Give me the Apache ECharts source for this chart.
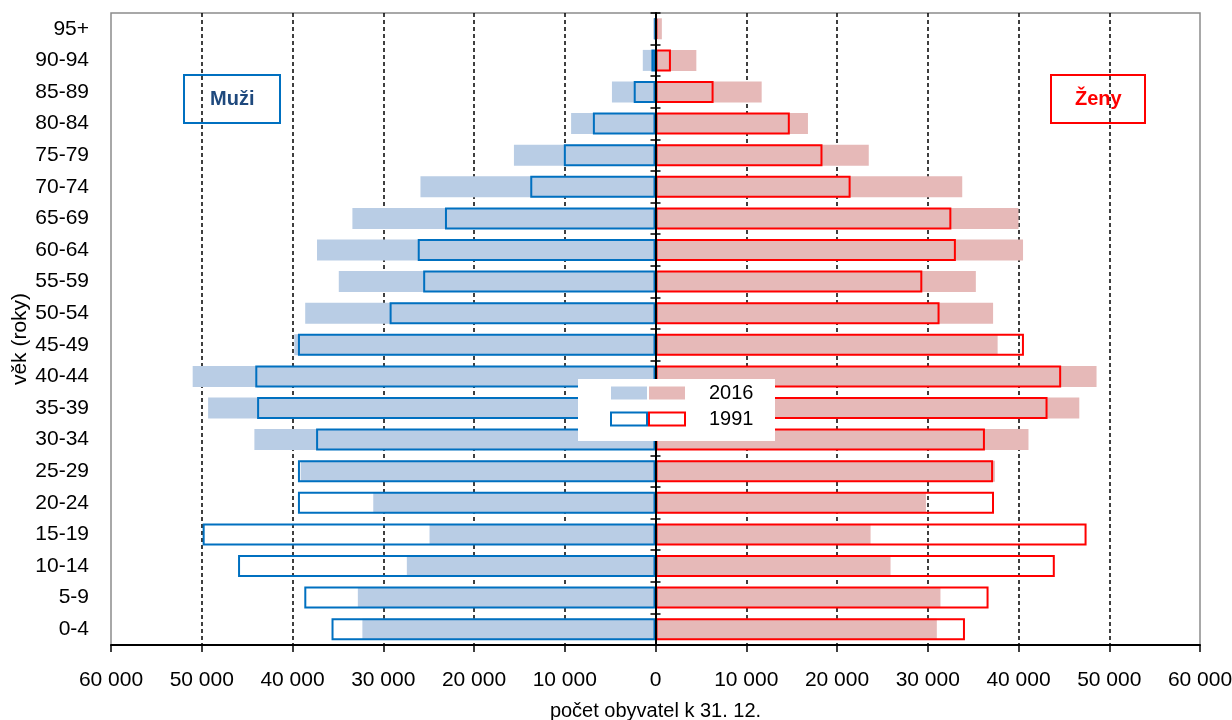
<!DOCTYPE html>
<html>
<head>
<meta charset="utf-8">
<script src="https://cdn.jsdelivr.net/npm/echarts@6/dist/echarts.min.js"></script>
<style>html,body{margin:0;padding:0;background:#fff}#c{width:1232px;height:720px}</style>
</head>
<body>
<div id="c"></div>
<script>
var categories = ['0-4','5-9','10-14','15-19','20-24','25-29','30-34','35-39','40-44','45-49','50-54','55-59','60-64','65-69','70-74','75-79','80-84','85-89','90-94','95+'];
var men2016 = [32300,32800,27400,24900,31100,39100,44200,49300,51000,39800,38600,34900,37300,33400,25900,15600,9300,4800,1400,250];
var women2016 = [31000,31400,25900,23700,29800,37400,41100,46700,48600,37700,37200,35300,40500,40000,33800,23500,16800,11700,4500,700];
var men1991 = [35700,38700,46000,49900,39400,39400,37400,43900,44100,39400,29300,25600,26200,23200,13800,10100,6900,2400,450,50];
var women1991 = [34100,36700,44000,47500,37300,37200,36300,43200,44700,40600,31300,29400,33100,32600,21500,18400,14800,6400,1700,200];
var xTicks = {min: -60000, max: 60000, interval: 10000};

var FONT = "'Liberation Sans', Arial, sans-serif";
function neg(a){ return a.map(function(v){ return -v; }); }
function fmt(v){ return String(Math.abs(v)).replace(/\B(?=(\d{3})+(?!\d))/g, ' '); }

var chart = echarts.init(document.getElementById('c'));
chart.setOption({
  animation: false,
  textStyle: {fontFamily: FONT},
  grid: {left: 111, right: 32, top: 13, bottom: 75, show: true, borderColor: '#8c8c8c', borderWidth: 1.5,
         containLabel: false, outerBoundsMode: 'none'},
  title: [
    {text: 'Muži', left: 184, top: 75, padding: [14, 26], borderColor: '#0070C0', borderWidth: 2,
     textStyle: {fontFamily: FONT, fontSize: 20, fontWeight: 'bold', color: '#1F497D'}},
    {text: 'Ženy', left: 1051, top: 75, padding: [14, 24], borderColor: '#FF0000', borderWidth: 2,
     textStyle: {fontFamily: FONT, fontSize: 20, fontWeight: 'bold', color: '#FF0000'}}
  ],
  graphic: [{type: 'rect', z: 4, zlevel: 0, shape: {x: 578, y: 379, width: 197, height: 62}, style: {fill: '#fff'}, silent: true}],
  legend: [
    {left: 610, top: 383, orient: 'vertical', padding: 0, itemWidth: 36, itemHeight: 13, itemGap: 6, icon: 'rect',
     selectedMode: false, z: 5, formatter: function(){ return ' '; },
     textStyle: {fontFamily: FONT, fontSize: 20, color: '#000'},
     data: [
       {name: 'Muži 2016', itemStyle: {color: '#B9CDE5', borderWidth: 0}},
       {name: 'Muži 1991', itemStyle: {color: 'rgba(0,0,0,0)', borderColor: '#0070C0', borderWidth: 2}}
     ]},
    {left: 648, top: 383, orient: 'vertical', padding: 0, itemWidth: 36, itemHeight: 13, itemGap: 6, icon: 'rect',
     selectedMode: false, z: 6, formatter: function(n){ return n.split(' ')[1]; },
     textStyle: {fontFamily: FONT, fontSize: 20, color: '#000', padding: [0, 0, 0, 19]},
     data: [
       {name: 'Ženy 2016', itemStyle: {color: '#E6B9B8', borderWidth: 0}},
       {name: 'Ženy 1991', itemStyle: {color: 'rgba(0,0,0,0)', borderColor: '#FF0000', borderWidth: 2}}
     ]}
  ],
  xAxis: {
    type: 'value', min: xTicks.min, max: xTicks.max, interval: xTicks.interval,
    name: 'počet obyvatel k 31. 12.', nameLocation: 'middle', nameGap: 56, nameMoveOverlap: false,
    nameTextStyle: {fontFamily: FONT, fontSize: 20, color: '#000'},
    axisLine: {show: true, lineStyle: {color: '#000', width: 2}},
    axisTick: {show: true, length: 7, lineStyle: {color: '#000', width: 1.5}},
    axisLabel: {fontFamily: FONT, fontSize: 21, color: '#000', margin: 25, formatter: fmt},
    splitLine: {show: true, showMinLine: false, showMaxLine: false, lineStyle: {color: '#000', width: 1.5, type: [4, 3]}}
  },
  yAxis: [
    {type: 'category', data: categories, position: 'left',
     name: 'věk (roky)', nameLocation: 'middle', nameGap: 80, nameRotate: 90, nameMoveOverlap: false,
     nameTextStyle: {fontFamily: FONT, fontSize: 21, color: '#000', padding: [0, 20, 0, 0]},
     axisLine: {show: false, onZero: false}, axisTick: {show: false},
     axisLabel: {fontFamily: FONT, fontSize: 21, color: '#000', margin: 22},
     splitLine: {show: false}},
    {type: 'category', data: categories, position: 'left', z: 3,
     axisLine: {show: true, onZero: true, onZeroAxisIndex: 0, lineStyle: {color: '#000', width: 2}},
     axisTick: {show: true, inside: false, length: 5, lineStyle: {color: '#000', width: 1.5}},
     axisLabel: {show: false}, splitLine: {show: false}},
    {type: 'category', data: categories, position: 'left', z: 3,
     axisLine: {show: false, onZero: true, onZeroAxisIndex: 0},
     axisTick: {show: true, inside: true, length: 5, lineStyle: {color: '#000', width: 1.5}},
     axisLabel: {show: false}, splitLine: {show: false}}
  ],
  series: [
    {name: 'Muži 2016', type: 'bar', yAxisIndex: 0, stack: 's2016', barWidth: 21, data: neg(men2016),
     itemStyle: {color: '#B9CDE5'}},
    {name: 'Ženy 2016', type: 'bar', yAxisIndex: 0, stack: 's2016', barWidth: 21, data: women2016,
     itemStyle: {color: '#E6B9B8'}},
    {name: 'Muži 1991', type: 'bar', yAxisIndex: 1, stack: 's1991', barWidth: 22, data: neg(men1991),
     itemStyle: {color: 'rgba(0,0,0,0)', borderColor: '#0070C0', borderWidth: 2}},
    {name: 'Ženy 1991', type: 'bar', yAxisIndex: 1, stack: 's1991', barWidth: 22, data: women1991,
     itemStyle: {color: 'rgba(0,0,0,0)', borderColor: '#FF0000', borderWidth: 2}}
  ]
});
</script>
</body>
</html>
